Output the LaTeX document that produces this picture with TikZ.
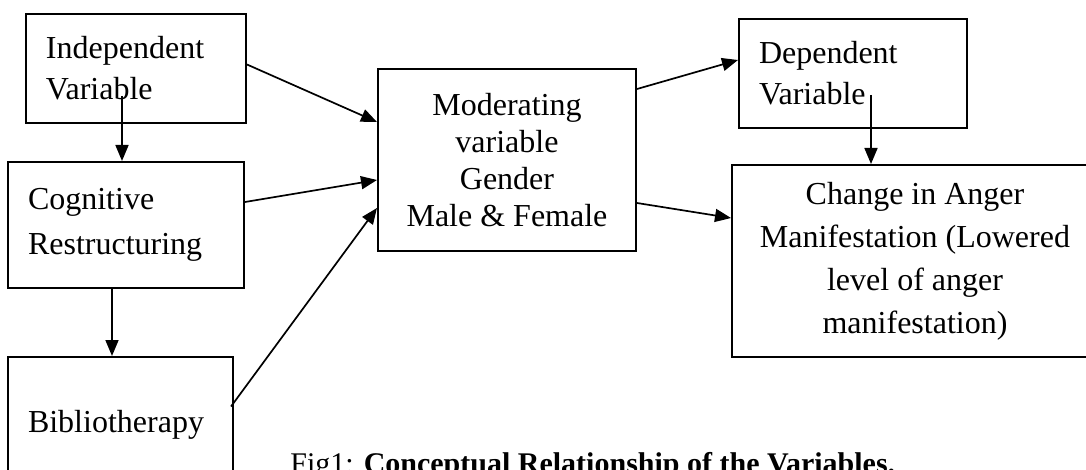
\documentclass[tikz,border=0pt]{standalone}
\usepackage{fontspec}
\setmainfont{Liberation Serif}
\usetikzlibrary{arrows.meta}

\begin{document}
\begin{tikzpicture}[
  x=0.5pt,y=-0.5pt,
  box/.style={draw=black,line width=1pt,inner sep=0pt,font=\fontsize{16}{20.5}\selectfont},
  leftbox/.style={box,align=left},
  midbox/.style={box,align=flush center},
  arrow/.style={-{Triangle[length=8pt,width=6.5pt]},draw=black,line width=0.85pt},
  caption/.style={font=\fontsize{15}{18}\selectfont,anchor=base west,inner sep=0pt}
]
\useasboundingbox (0,0) rectangle (1086,470);
\clip (0,0) rectangle (1086,470);
\node[leftbox,minimum width=110pt,minimum height=54.5pt,text width=90pt] (indep) at (136,68.5) {Independent\\Variable};
\node[leftbox,minimum width=118pt,minimum height=63pt,text width=98pt,font=\fontsize{16}{22.5}\selectfont] (cogres) at (126,225) {Cognitive\\Restructuring};
\node[leftbox,minimum width=112.5pt,minimum height=67.5pt,text width=92.5pt] (biblio) at (120.5,424.5) {Bibliotherapy};
\node[midbox,minimum width=129pt,minimum height=91pt,text width=120pt,font=\fontsize{16}{18.5}\selectfont] (moder) at (507,160) {Moderating\\variable\\Gender\\Male \& Female};
\node[leftbox,minimum width=114pt,minimum height=54.5pt,text width=94pt] (depvar) at (853,73.5) {Dependent\\Variable};
\node[midbox,minimum width=183pt,minimum height=96pt,text width=170pt,font=\fontsize{16}{21.5}\selectfont] (change) at (915,261) {Change in Anger\\Manifestation (Lowered\\level of anger\\manifestation)};
\draw[arrow] ([yshift=2pt]indep.east) -- ([yshift=19pt]moder.west);
\draw[arrow] ([yshift=11.5pt]cogres.east) -- ([yshift=-10pt]moder.west);
\draw[arrow] ([xshift=-1.5pt,yshift=9pt]biblio.east) -- ([yshift=-24pt]moder.west);
\draw[arrow] ([xshift=-7pt,yshift=14pt]indep.south) -- ([xshift=-2pt]cogres.north);
\draw[arrow] ([xshift=-7pt]cogres.south) -- ([xshift=-4.25pt]biblio.north);
\draw[arrow] ([yshift=35.5pt]moder.east) -- ([yshift=6.75pt]depvar.west);
\draw[arrow] ([yshift=-21.5pt]moder.east) -- ([yshift=21.5pt]change.west);
\draw[arrow] ([xshift=9pt,yshift=17pt]depvar.south) -- ([xshift=-22pt]change.north);
\node[caption] (fig) at (290,473) {Fig1: \textbf{Conceptual Relationship of the Variables.}};
\end{tikzpicture}
\end{document}
